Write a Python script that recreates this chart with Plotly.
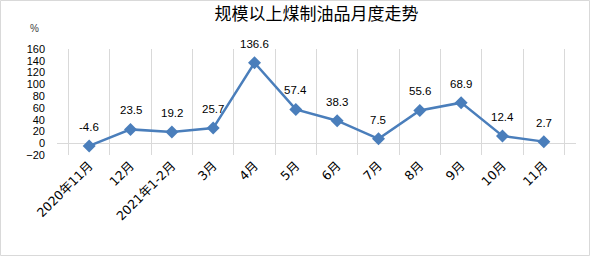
import plotly.graph_objects as go

categories = ["2020年11月", "12月", "2021年1-2月", "3月", "4月", "5月", "6月", "7月", "8月", "9月", "10月", "11月"]
values = [-4.6, 23.5, 19.2, 25.7, 136.6, 57.4, 38.3, 7.5, 55.6, 68.9, 12.4, 2.7]
labels = ["-4.6", "23.5", "19.2", "25.7", "136.6", "57.4", "38.3", "7.5", "55.6", "68.9", "12.4", "2.7"]
y_ticks = [-20, 0, 20, 40, 60, 80, 100, 120, 140, 160]

W, H = 591, 256
ML, MR, MT, MB = 57, 15, 49, 101
PW, PH = W - ML - MR, H - MT - MB

FONT = "Liberation Sans, Noto Sans CJK SC, sans-serif"
XFONT = "DejaVu Sans, Noto Sans CJK SC, sans-serif"
LINE = "#4A7EBB"

fig = go.Figure()
fig.add_trace(go.Scatter(
    x=categories, y=values, mode="lines+markers",
    line=dict(color=LINE, width=2.5),
    marker=dict(symbol="diamond", size=10, color=LINE),
    hoverinfo="skip", showlegend=False,
))

for c, v, t in zip(categories, values, labels):
    fig.add_annotation(x=c, y=v, text=t, showarrow=False, yshift=19,
                       font=dict(family=FONT, size=11.5, color="#000000"))

fig.add_annotation(xref="paper", yref="paper",
                   x=(28 - ML) / PW, y=(H - 21 - MB) / PH,
                   text="%", showarrow=False,
                   font=dict(family=FONT, size=10, color="#404040"))

fig.add_shape(type="rect", xref="paper", yref="paper",
              x0=(0.5 - ML) / PW, x1=(589.5 - ML) / PW,
              y0=(0.5 - MB) / PH, y1=(H - 0.5 - MB) / PH,
              line=dict(color="#D9D9D9", width=1), fillcolor="rgba(0,0,0,0)", layer="below")

fig.update_layout(
    width=W, height=H,
    margin=dict(l=ML, r=MR, t=MT, b=MB),
    paper_bgcolor="white", plot_bgcolor="white",
    title=dict(text="规模以上煤制油品月度走势", x=(ML + PW / 2) / W, xanchor="center",
               y=1 - 14 / H, yanchor="middle",
               font=dict(family="Noto Sans CJK SC, sans-serif", size=17, color="#000000")),
    xaxis=dict(type="category", tickson="boundaries", showgrid=True, gridcolor="#D9D9D9",
               gridwidth=1, tickangle=-45, showline=False, ticks="",
               tickfont=dict(family=XFONT, size=12.5, color="#000000"), fixedrange=True),
    yaxis=dict(range=[-20, 160], tickvals=y_ticks, showgrid=False, zeroline=True,
               zerolinecolor="#D9D9D9", zerolinewidth=1, showline=False,
               tickfont=dict(family=FONT, size=11, color="#000000"),
               ticklabelstandoff=11, fixedrange=True),
)

fig.write_html("out.html")
